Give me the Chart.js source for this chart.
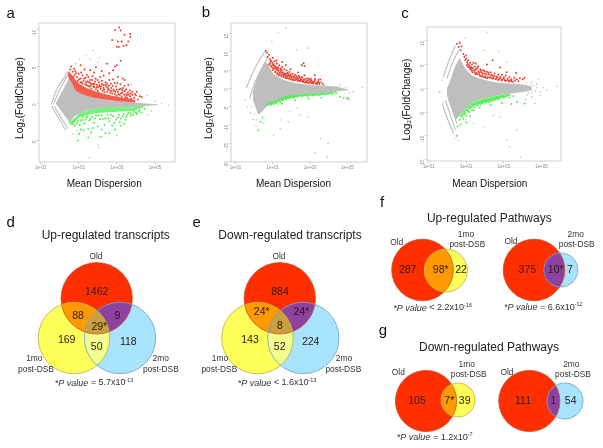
<!DOCTYPE html>
<html><head><meta charset="utf-8">
<script src="https://cdn.jsdelivr.net/npm/chart.js@4"></script>
<style>
html,body{margin:0;padding:0;background:#fff;width:603px;height:448px;overflow:hidden}
canvas{position:absolute;top:0}
#a,#b,#c{filter:blur(0.35px)}
#venn{filter:blur(0.2px)}
</style></head><body>
<canvas id="venn" width="603" height="448" style="left:0"></canvas>
<canvas id="a" width="200" height="190" style="left:0"></canvas>
<canvas id="b" width="200" height="190" style="left:200px"></canvas>
<canvas id="c" width="203" height="190" style="left:400px"></canvas>
<script>
// ---------- shared tick labels
const xTickValues=[-1,1,3,5];
const xTickLabels=['1e-01','1e+01','1e+03','1e+05'];
const aYTicks=[10,5,0,-5];
const bYTicks=[15,10,5,0,-5,-10,-15,-20];
const cYTicks=[10,5,0,-5,-10,-15];

// ---------- panel a: log10 mean, log2 fold change
const aMassX=[-0.21,0.44,0.53,0.58,0.79,1.05,1.4,2.1,3.0,3.86,4.56,5.09];
const aMassUp=[0,3.2,3.9,3.2,1.85,1.4,1.05,0.63,0.36,0.14,0,-0.09];
const aMassLow=[0,-2.3,-2.9,-2.3,-1.7,-1.3,-0.9,-0.63,-0.54,-0.5,-0.3,-0.18];
const aRedBandX=[0.44,0.6,0.8,1.05,1.4,1.8,2.2,2.7,3.1,3.6,3.95];
const aRedBandUp=[4.4,4.0,3.3,2.6,2.1,1.75,1.4,1.1,0.9,0.7,0.5];
const aRedBandLow=[3.6,3.0,1.85,1.4,1.05,0.8,0.6,0.45,0.33,0.2,0.14];
const aGreenBandX=[0.55,0.8,1.05,1.5,2.1,3,3.86,4.4];
const aGreenBandUp=[-2.4,-1.9,-1.3,-0.85,-0.63,-0.54,-0.5,-0.3];
const aGreenBandLow=[-3.0,-2.5,-1.85,-1.5,-1.25,-1.1,-1.0,-0.5];
const aStrands=[[[-0.44,0],[-0.1,2.2],[0.44,4.3]],[[-0.32,0],[0.05,2.2],[0.49,4.1]],[[-0.44,-0.3],[-0.05,-2],[0.32,-3.65]],[[-0.3,-0.3],[0.05,-1.9],[0.44,-3.4]]];
const aRed=[[3.12,10.3],[2.9,9.95],[3.2,9.9],[3.4,9.3],[3.7,9.4],[3.7,9],[2.75,8.6],[3.05,8.4],[3.25,8.4],[3.6,8.4],[3,7.7],[3.1,7.7],[3.35,7.8],[3.5,7.9],[3,5.2],[3.2,5.8],[2.9,5],[0.55,4.6],[0.6,5],[0.68,4.3],[0.75,4.7],[0.85,4.1],[0.9,3.6],[1,4],[1.1,3.4],[1.2,3.8],[1.25,3.1],[1.35,3.5],[1.45,3],[1.5,3.6],[1.6,2.8],[1.7,3.2],[1.75,2.6],[1.85,3],[1.95,2.5],[2.05,2.9],[2.1,2.3],[2.2,2.7],[2.3,2.1],[2.4,2.9],[2.45,2.3],[2.55,1.9],[2.6,3.2],[2.7,2.1],[2.8,3.3],[2.85,1.7],[2.95,2.3],[3.05,1.6],[3.2,2],[3.3,1.5],[3.4,2.4],[3.5,1.3],[3.6,2.5],[3.7,1],[3.8,1.6],[3.9,0.8],[4,1.1],[1.15,2.9],[1.4,2.5],[1.55,2.3],[1.65,2.05],[1.8,2.2],[1.9,1.95],[2,1.7],[2.15,2],[2.25,1.75],[2.35,1.55],[2.5,1.6],[2.65,1.45],[2.75,1.35],[2.9,1.25],[3,1.05],[3.15,1.15],[3.25,0.95],[3.45,0.9],[3.55,0.75],[3.75,0.65],[2.3,3.8],[1.8,4.2],[1.3,4.6],[2.6,4.1],[3.4,3.2],[4.1,0.55],[4.3,0.9]];
const aRedCloud=[[0.72,3.6],[0.78,3.9],[0.82,4.4],[0.95,3.1],[1.02,3.3],[1.08,2.9],[1.12,4.2],[1.18,2.7],[1.28,3.4],[1.33,2.6],[1.38,2.9],[1.42,3.9],[1.48,2.4],[1.53,2.9],[1.58,3.2],[1.62,2.4],[1.68,2.6],[1.72,3.7],[1.78,2.3],[1.83,2.7],[1.88,3.4],[1.93,2.2],[1.98,3.2],[2.02,2.2],[2.08,2.5],[2.12,3.6],[2.18,2.3],[2.22,3.1],[2.28,2.5],[2.33,1.9],[2.38,2.5],[2.48,2.7],[2.52,2.1],[2.58,2.4],[2.62,1.8],[2.68,2.7],[2.72,1.7],[2.78,2.4],[2.82,1.9],[2.88,2.8],[2.92,1.6],[2.98,1.9],[3.02,2.8],[3.08,1.3],[3.12,1.9],[3.18,2.6],[3.22,1.4],[3.28,1.8],[3.32,2.1],[3.38,1.2],[3.42,1.7],[3.48,1.9],[3.52,1.1],[3.58,1.5],[3.62,1.2],[3.68,1.8],[3.72,1.35],[3.82,1.2],[3.95,1.3],[4.05,1.6],[4.2,1],[2.5,5.4],[1.1,5.2],[1.9,4.9],[2.8,4.5],[3.05,3.6],[3.3,3.4],[1.6,4.5],[2.2,4.4]];
const aGreen=[[0.7,-2.8],[0.8,-3],[0.95,-2.4],[1.05,-2.9],[1.2,-2.2],[1.3,-2.7],[1.4,-1.9],[1.5,-3.4],[1.55,-2.3],[1.7,-1.8],[1.8,-2.6],[1.9,-1.6],[2,-3.1],[2.1,-2.1],[2.2,-1.6],[2.35,-2.9],[2.4,-2],[2.5,-1.5],[2.6,-2.4],[2.75,-3],[2.8,-1.7],[2.95,-2.2],[3.1,-1.5],[3.2,-2],[3.35,-1.4],[3.5,-1.8],[3.6,-1.2],[3.75,-1.6],[3.9,-1.1],[4.05,-1.4],[4.2,-0.9],[4.3,-1.2],[4.45,-0.7],[1,-4.1],[0.95,-5],[1.5,-4.6],[2.4,-4],[2.9,-3.5],[3.4,-2.7],[1.25,-3.6],[1.75,-3.3],[2.2,-3.5]];
const aGreenCloud=[[0.75,-2.4],[0.9,-2.7],[1.1,-2.3],[1.2,-1.8],[1.35,-2.2],[1.45,-1.7],[1.6,-2.1],[1.85,-2],[2.05,-1.6],[2.25,-2.1],[2.55,-2],[2.7,-1.5],[2.85,-2.6],[3.05,-1.9],[3.15,-2.5],[3.3,-1.7],[3.45,-2.2],[3.55,-1.5],[3.7,-1.3],[3.85,-1.5],[4,-1.2],[4.15,-1.1],[1.1,-3.5],[1.65,-3.9],[2.15,-4.5],[2.6,-4],[3.2,-3]];
const aGray=[[2,-5.6],[2.05,-6],[1.55,-7.3],[1.05,-4],[3,-4.3],[5.1,-0.2],[5.7,-0.2],[5.35,0],[4.8,-1],[4.6,-1.5],[1.4,6.6],[1.75,7.2],[2.1,6.2],[1.05,6],[0.85,5.4],[1.6,6],[2,5.6],[2.4,5.5],[4.6,1.1],[5,0.3],[3.75,2.6],[0.7,-4.1],[0.9,-3.6]];

// ---------- panel b
const bMassX=[-0.07,0.23,0.59,0.77,1.04,1.57,2.28,2.99,3.7,4.42,5.04];
const bMassUp=[-0.9,3.7,7.3,6.4,3.9,2.3,1.4,0.9,0.8,0.5,-0.3];
const bMassLow=[-3.2,-7.3,-5.5,-4.6,-3.7,-2.8,-1.8,-1.6,-1.4,-0.8,-0.5];
const bGreenBandX=[0.7,1.04,1.57,2.28,2.99,3.7,4.42];
const bGreenBandUp=[-4.1,-3.7,-2.8,-1.8,-1.6,-1.4,-0.8];
const bGreenBandLow=[-4.8,-4.3,-3.3,-2.3,-2,-1.8,-1.2];
const bStrands=[[[-0.42,0],[-0.12,3.7],[0.23,7.3],[0.64,10.5]],[[-0.25,-2.8],[0.06,1.8],[0.41,5.5],[0.77,8.7]],[[-0.07,-1.8],[0.23,2.8],[0.59,6.4]]];
const bRed=[[0.62,10.3],[0.7,9.8],[0.72,8.6],[0.8,9.2],[0.85,8],[0.92,7.4],[1,8.4],[1.05,6.6],[1.1,7.4],[1.15,6],[1.22,6.8],[1.3,5.4],[1.35,6.3],[1.42,5],[1.5,5.9],[1.55,4.4],[1.62,5.2],[1.7,4],[1.75,4.9],[1.85,3.6],[1.9,4.5],[2,3.3],[2.05,4],[2.15,3],[2.2,3.7],[2.3,2.8],[2.4,3.4],[2.5,2.5],[2.55,3.1],[2.65,2.2],[2.7,3.6],[2.8,2],[2.9,2.7],[3,1.9],[3.05,2.6],[3.15,1.7],[3.25,2.2],[3.35,1.5],[3.45,2.3],[3.55,2.4],[0.8,6.5],[0.85,6.9],[0.95,5.8],[1,6.4],[1,5],[1.1,5.4],[1.15,4.6],[1.2,5.2],[1.25,4.2],[1.3,4.8],[1.35,3.9],[1.4,4.5],[1.45,3.6],[1.5,4.2],[1.6,3.4],[1.65,4],[1.7,3.1],[1.8,3.3],[1.9,2.9],[2,2.7],[2.1,2.5],[2.25,2.4],[2.35,2.2],[2.45,2],[2.6,1.9],[2.75,1.7],[2.9,1.6],[3.1,1.4],[3.3,1.3],[3.5,1.2],[0.88,7.5],[1.12,5.9],[1.28,5.8],[1.48,4.9],[1.58,3.7],[1.78,4.2],[1.95,3.8],[2.65,6.9],[2.55,6.3],[2.7,6.1]];
const bRedCloud=[[0.9,6.2],[0.98,7],[1.03,5.5],[1.08,6.1],[1.13,4.4],[1.18,5.6],[1.23,3.9],[1.27,5],[1.33,3.5],[1.38,4.2],[1.43,5.4],[1.47,3.3],[1.53,3.9],[1.57,3],[1.63,3.7],[1.68,2.8],[1.72,3.6],[1.77,2.8],[1.83,3.9],[1.87,2.6],[1.92,3.3],[1.97,2.4],[2.03,3],[2.08,2.2],[2.12,3.4],[2.18,2.2],[2.22,2.8],[2.28,3.3],[2.33,2],[2.38,2.6],[2.43,3],[2.48,1.9],[2.53,2.3],[2.58,2.8],[2.63,1.7],[2.68,2.4],[2.73,1.6],[2.78,2.6],[2.83,1.6],[2.88,2.2],[2.93,1.4],[2.98,2.4],[3.03,1.5],[3.08,2.1],[3.18,1.3],[3.22,1.8],[3.28,2.6],[3.38,1.2],[3.42,1.8],[3.48,1.5],[3.6,1.6],[3.7,1.1],[3.25,3.6],[2.35,4.3],[1.95,5.2],[1.7,6.4],[1.2,7.6],[1.5,7.2]];
const bGreen=[[0.7,-4.6],[0.8,-4.2],[0.9,-4.5],[1,-3.9],[1.05,-4.4],[1.15,-3.5],[1.2,-4],[1.3,-3.2],[1.4,-3.7],[1.45,-2.9],[1.55,-3.3],[1.6,-2.6],[1.7,-3],[1.8,-2.4],[1.9,-2.8],[2,-2.2],[2.1,-2.6],[2.2,-2.1],[2.3,-2.3],[2.4,-1.9],[2.55,-2.2],[2.7,-1.8],[2.85,-2.1],[3,-1.7],[3.15,-2],[3.3,-1.7],[3.45,-1.9],[3.6,-1.5],[3.8,-1.7],[4,-1.4],[4.2,-1.6],[4.4,-1.2],[4.6,-2.4],[4.8,-2.7],[5,-2.6],[5.05,-3],[0.23,-11.5],[0.35,-9.2],[0.45,-8]];
const bGreenCloud=[[0.85,-3.9],[0.95,-4.1],[1.1,-3.8],[1.25,-3.5],[1.35,-3],[1.5,-2.7],[1.65,-2.5],[1.75,-2.3],[1.85,-2.1],[1.95,-2.4],[2.05,-2],[2.15,-2.4],[2.25,-1.9],[2.35,-2.1],[2.5,-1.9],[2.65,-2],[2.8,-1.7],[2.95,-1.9],[3.1,-1.7],[3.25,-1.8],[3.4,-1.6],[3.55,-1.7],[3.7,-1.5],[3.9,-1.5],[4.1,-1.3],[1.5,-4.2],[2.2,-3.3],[2.9,-2.8],[3.6,-2.6]];
const bGray=[[1.71,16.5],[1.3,15.3],[0.95,12.8],[2.28,10.5],[2.9,11],[2.64,6.9],[3.26,-17.7],[3.92,-18.8],[3.97,-15.1],[3.56,-13.8],[1.84,-9.2],[1.39,-11],[1.04,-12.8],[5.3,-0.9],[5.8,0.3],[4.95,-2.75],[2.46,-7.3],[2.9,-7.8],[1.4,-8.7],[-0.5,-3.3],[-0.35,-5.2],[-0.2,-6.8],[-0.05,-8.5],[0.1,-10.2],[-0.12,-5],[0.02,-7],[0.15,-8.6],[0.3,-6.5],[4.6,0.9],[4.9,0.2],[5.1,-1.2],[3.6,3.5],[1.9,-6.4],[2.3,-5.5],[0.5,-9.5]];

// ---------- panel c
const cMassX=[-0.03,0.15,0.42,0.65,0.95,1.3,1.92,2.63,3.34,4.04,4.49];
const cMassUp=[-0.07,1.7,4.8,6.4,4.1,2.7,1.8,1.2,1,0.8,0.4];
const cMassLow=[-1.5,-3.6,-6.7,-5.7,-4.3,-2.9,-2.2,-1.5,-1.1,-0.8,-0.4];
const cGreenBandX=[0.65,0.95,1.3,1.92,2.63,3.34];
const cGreenBandUp=[-5.7,-4.3,-2.9,-2.2,-1.5,-1.1];
const cGreenBandLow=[-6.5,-5,-3.8,-3.1,-2.4,-1.5];
const cStrands=[[[-0.2,2.7],[0.1,6],[0.42,9]],[[-0.03,2],[0.25,5.2],[0.59,8]],[[-0.29,-3.2],[0,-6.4],[0.33,-9.5]],[[-0.11,-2.5],[0.15,-5.6],[0.42,-8.8]],[[0.03,-1.8],[0.25,-4.4],[0.5,-7.5]]];
const cRed=[[0.5,9.4],[0.6,8.7],[0.65,9.6],[0.7,8],[0.75,8.8],[0.9,6.6],[0.95,5.9],[1,6.2],[1.05,5.5],[1.1,5.9],[1.15,4.9],[1.2,5.4],[1.25,4.5],[1.3,5],[1.35,4.2],[1.45,4.6],[1.5,3.9],[1.6,4.3],[1.65,3.6],[1.75,4],[1.8,3.3],[1.9,3.8],[2,3.1],[2.1,3.5],[2.2,2.9],[2.3,3.4],[2.4,2.7],[2.5,3.1],[2.6,2.5],[2.7,2.9],[2.8,2.4],[2.9,2.8],[3,2.3],[3.1,2.7],[3.2,2],[3.3,2.4],[3.4,1.9],[3.55,2.2],[3.7,1.9],[3.85,2.1],[4,1.9],[2.1,5],[2.8,4.4],[3.15,3.4],[1.1,4.5],[1.2,4.1],[1.3,3.7],[1.45,3.4],[1.55,3.2],[1.7,2.9],[1.85,2.7],[2,2.55],[2.15,2.4],[2.3,2.3],[2.45,2.15],[2.6,2],[2.75,1.95],[2.9,1.85],[3.05,1.75],[3.25,1.6],[3.4,1.5],[2.4,5.9],[1.5,5.2]];
const cRedCloud=[[0.85,7.2],[0.98,6.9],[1.03,4.8],[1.08,5.1],[1.18,4.5],[1.23,3.9],[1.28,4.2],[1.33,3.4],[1.38,5.4],[1.42,3.8],[1.48,3],[1.53,4.1],[1.58,2.9],[1.63,4.6],[1.68,3.2],[1.73,2.6],[1.78,3.7],[1.83,2.5],[1.88,3.1],[1.93,2.3],[1.98,3.6],[2.03,2.2],[2.08,2.9],[2.13,2.1],[2.18,3.3],[2.25,2.2],[2.33,2.8],[2.38,2.05],[2.48,2.6],[2.55,1.9],[2.65,2.3],[2.7,1.75],[2.8,2.1],[2.88,1.65],[2.98,2],[3.08,1.55],[3.18,1.7],[3.28,1.45],[3.38,1.7],[3.5,1.4],[3.6,1.7],[3.78,1.5],[4.1,2.2],[3.65,3.2]];
const cGreen=[[0.5,-10],[0.55,-8],[0.65,-6.6],[0.7,-7.6],[0.8,-5.9],[0.85,-6.4],[0.95,-5.2],[1,-5.8],[1.1,-4.6],[1.15,-5],[1.25,-4],[1.3,-4.6],[1.4,-3.4],[1.45,-4],[1.55,-3.2],[1.6,-3.7],[1.7,-2.9],[1.75,-3.4],[1.85,-2.6],[1.9,-3.2],[2,-2.5],[2.05,-3],[2.15,-2.3],[2.2,-2.9],[2.3,-2.1],[2.35,-2.6],[2.45,-2],[2.5,-2.5],[2.6,-1.9],[2.7,-2.3],[2.85,-1.7],[3,-2],[3.15,-1.6],[3.3,-1.9],[3.5,-1.6],[3.7,-2.9],[4.1,-3.2],[3.4,-3.3]];
const cGreenCloud=[[0.9,-5.4],[1.05,-4.7],[1.2,-4.2],[1.35,-3.7],[1.5,-3.4],[1.65,-3.2],[1.8,-3],[1.95,-2.8],[2.1,-2.6],[2.25,-2.5],[2.4,-2.3],[2.55,-2.2],[2.65,-1.8],[2.75,-2],[2.95,-1.6],[3.1,-1.7],[3.25,-1.4],[1.4,-4.6],[1.7,-4.1],[2.3,-3.5],[1.2,-5.9],[1,-7.2],[2.9,-3.1]];
const cGray=[[2.1,11.8],[0.95,10.6],[1.96,8],[2.72,7.8],[3.16,5.5],[4.84,1.9],[5.81,0.4],[5.28,-0.4],[4.93,-1.5],[4.66,-3.2],[4.49,-1.8],[3.69,-8.8],[3.16,-10.9],[3.3,-12.3],[3.9,-14.4],[1.92,-8.1],[1.39,-7.4],[2.45,-5.7],[2.8,-6],[4.58,0.6],[4.75,0.1],[4.66,-0.6],[4.49,1.3],[4.31,-1],[4.75,0.9],[5.1,0.1],[4.4,0.9],[4.5,-0.9],[4.2,1.2],[4.25,-1.4],[-0.45,-0.7],[-0.4,-0.9],[-0.3,1.7],[-0.2,2.5],[0.45,-10.5],[0.55,-11],[-0.2,-3],[4.95,-0.8],[4.15,-2.4]];

// ---------- Venn counts and p values
const upCounts=['1462','88','9','29*','169','50','118'];
const downCounts=['884','24*','24*','8','143','52','224'];
const upPathA=['287','98*','22'];
const upPathB=['375','10*','7'];
const downPathA=['105','7*','39'];
const downPathB=['111','1','54'];
const pValues=[['= 5.7x10','-13'],['< 1.6x10','-13'],['< 2.2x10','-16'],['= 6.6x10','-12'],['= 1.2x10','-7']];

// ---------- helpers
const toPts=(xs,ys)=>xs.map((x,i)=>({x,y:ys[i]}));
const pairs=l=>l.map(([x,y])=>({x,y}));
const FONT='"Liberation Sans", Arial, sans-serif';
const GRAY='#bebebe';
const band=(xs,up,low,color,order)=>[
 {data:toPts(xs,up),showLine:true,pointRadius:0,borderWidth:0,borderColor:color,backgroundColor:color,fill:'+1',order},
 {data:toPts(xs,low),showLine:true,pointRadius:0,borderWidth:0,borderColor:color,backgroundColor:color,fill:false,order}];
const dots=(l,color,r,order)=>({data:pairs(l),pointRadius:r,pointBackgroundColor:color,pointBorderWidth:0,showLine:false,order});
const strandSets=l=>l.map(s=>({data:pairs(s),showLine:true,pointRadius:0,borderWidth:1.1,borderColor:GRAY,tension:0.3,fill:false,order:8}));

const framePlugin={id:'frame',afterDatasetsDraw(ch){const{ctx,chartArea:c}=ch;ctx.save();ctx.strokeStyle='#cfcfcf';ctx.lineWidth=1;ctx.strokeRect(c.left,c.top,c.right-c.left,c.bottom-c.top);ctx.restore();}};

function maChart(id,f,yTicks,yRange,xRange,sets,xSp,ySp,yPad){
 const cv=document.getElementById(id);
 return new Chart(cv,{type:'scatter',data:{datasets:sets},plugins:[framePlugin],options:{
  responsive:false,animation:false,events:[],
  layout:{autoPadding:false,padding:{top:f.t,right:cv.width-f.r,left:0,bottom:0}},
  plugins:{legend:{display:false},tooltip:{enabled:false}},
  scales:{
   x:{type:'linear',min:xRange[0],max:xRange[1],
     afterBuildTicks:s=>{s.ticks=xTickValues.map(value=>({value}));},
     afterFit:s=>{s.height=190-f.b;},
     grid:{display:true,drawOnChartArea:false,tickLength:2,color:'#c8c8c8'},border:{display:false},
     ticks:{font:{size:4.5,family:FONT},color:'#8a8a8a',padding:1,autoSkip:false,maxRotation:0,minRotation:0,callback:v=>xTickLabels[xTickValues.indexOf(v)]},
     title:{display:true,text:'Mean Dispersion'+' '.repeat(xSp),color:'#111',font:{size:10,family:FONT},padding:{top:2,bottom:0}}},
   y:{type:'linear',min:yRange[0],max:yRange[1],
     afterBuildTicks:s=>{s.ticks=yTicks.map(value=>({value}));},
     afterFit:s=>{s.width=f.l;},
     grid:{display:true,drawOnChartArea:false,tickLength:2,color:'#c8c8c8'},border:{display:false},
     ticks:{font:{size:4.5,family:FONT},color:'#8a8a8a',padding:2,autoSkip:false,minRotation:90,maxRotation:90,callback:v=>String(v)},
     title:{display:true,text:'Log\u2082(FoldChange)'+' '.repeat(ySp),color:'#111',font:{size:10,family:FONT},padding:{top:yPad,bottom:0}}}
  }}});
}

maChart('a',{l:39,r:175,t:23,b:162},aYTicks,[-7.9,10.9],[-1.09,6.05],[
 dots(aRed.concat(aRedCloud),'#f0402c',1,1),dots(aGreen.concat(aGreenCloud),'#4df04d',1,2),dots(aGray,'#c9c0c0',0.8,9),
 ...band(aRedBandX,aRedBandUp,aRedBandLow,'rgba(244,52,30,0.8)',5),
 ...band(aGreenBandX,aGreenBandUp,aGreenBandLow,'rgba(70,240,70,0.75)',6),
 ...band(aMassX,aMassUp,aMassLow,GRAY,7),...strandSets(aStrands)],2,4,14);

maChart('b',{l:31,r:167,t:23,b:162},bYTicks,[-20.2,17.9],[-1.24,6.05],[
 dots(bRed.concat(bRedCloud),'#e9402e',1,1),dots(bGreen.concat(bGreenCloud),'#50ee50',1,2),dots(bGray,'#c6c0c0',0.8,9),
 ...band(bGreenBandX,bGreenBandUp,bGreenBandLow,'rgba(70,240,70,0.7)',6),
 ...band(bMassX,bMassUp,bMassLow,GRAY,7),...strandSets(bStrands)],4,4,3);

maChart('c',{l:27,r:161,t:27,b:161},cYTicks,[-15.3,12.9],[-1.09,6.04],[
 dots(cRed.concat(cRedCloud),'#e9402e',1,1),dots(cGreen.concat(cGreenCloud),'#50ee50',1,2),dots(cGray,'#c6c0c0',0.8,9),
 ...band(cGreenBandX,cGreenBandUp,cGreenBandLow,'rgba(70,240,70,0.7)',6),
 ...band(cMassX,cMassUp,cMassLow,GRAY,7),...strandSets(cStrands)],3,4,1.3);

// ---------- Venn layer: one bubble chart over a page sized hidden scale
const RED='#ff2f00',YEL='#ffff5a',BLU='#a9e4ff',ORG='#ff9a00',PUR='#8d42a0',LIM='#f2ff8e',TRI='#c9a03c';
const RL='#c8502a',YL='#b5ad4a',BL='#6f9fc4';
const circles=[
 {x:96.7,y:298.3,r:35.7},{x:74,y:338,r:35.8},{x:120,y:338,r:35.7},
 {x:279.8,y:298.3,r:35.7},{x:257.5,y:338,r:35.8},{x:303.3,y:338,r:35.7},
 {x:422.5,y:270,r:30.8},{x:445.8,y:270.5,r:21.5},
 {x:534,y:270,r:30.8},{x:560.8,y:270,r:17},
 {x:426,y:401,r:30.6},{x:458,y:400,r:17},
 {x:529.3,y:401,r:30.6},{x:565,y:401,r:18}];
const fills=[RED,YEL,BLU,RED,YEL,BLU,RED,YEL,RED,BLU,RED,YEL,RED,BLU];
const lines=[RL,YL,BL,RL,YL,BL,RL,YL,RL,BL,RL,YL,RL,BL];
const overlaps=[[[0,1],ORG],[[0,2],PUR],[[1,2],LIM],[[0,1,2],TRI],[[3,4],ORG],[[3,5],PUR],[[4,5],LIM],[[3,4,5],TRI],[[6,7],ORG],[[8,9],PUR],[[10,11],ORG],[[12,13],PUR]];

const L=(t,x,y,s,c,w)=>({t,x,y,s:s||8.4,c:c||'#333'});
const countPlaces=[
 [upCounts,[[96.7,292.3],[78,316],[117.3,316],[99.3,326.7],[66.7,340],[96.7,347.3],[128.3,342]]],
 [downCounts,[[280,292.3],[261.7,312.3],[301.5,312.3],[280,325.7],[250,340],[279.7,347.3],[310.7,342]]],
 [upPathA,[[407.7,270.3],[440.7,270.3],[461,270.3]]],
 [upPathB,[[527.3,270.3],[555.7,270.3],[570,270.3]]],
 [downPathA,[[417,400.7],[449.3,400.7],[464.7,400.7]]],
 [downPathB,[[523,400.7],[553.3,400.7],[570.7,400.7]]]];
const texts=[
 L('a',10.7,14,15,'#111'),L('b',206,13,15,'#111'),L('c',405,14,15,'#111'),L('d',10.7,223,15,'#111'),L('e',196.7,223,15,'#111'),L('f',382,203,15,'#111'),L('g',383,331,15,'#111'),
 L('Up-regulated transcripts',105.7,236,12,'#222'),L('Down-regulated transcripts',290,235.7,12,'#222'),L('Up-regulated Pathways',489.3,218.3,12,'#222'),L('Down-regulated Pathways',489,347.7,12,'#222'),
 L('Old',96,256.7),L('1mo',34.3,359),L('post-DSB',36,369.7),L('2mo',160.7,359),L('post-DSB',160.8,369.7),
 L('Old',279,256.7),L('1mo',220,359),L('post-DSB',219.3,369.7),L('2mo',344,359),L('post-DSB',343.3,369.7),
 L('Old',396.7,242.3),L('1mo',466,234.3),L('post-DSB',467.3,244.7),L('Old',511,242),L('2mo',575.7,234.3),L('post-DSB',576.7,244.7),
 L('Old',398.3,372.7),L('1mo',466.7,364.7),L('post-DSB',468.7,375),L('Old',507,372.7),L('2mo',571.3,364.7),L('post-DSB',573,375)];
const pPlaces=[[94,383],[277,383],[432.7,308],[543.3,307.5],[434.7,437.3]];

const vennPlugin={id:'vennParts',afterDatasetsDraw(ch){
 const{ctx}=ch,el=ch.getDatasetMeta(0).data;
 const path=i=>{const e=el[i];ctx.beginPath();ctx.arc(e.x,e.y,e.options.radius,0,Math.PI*2);};
 overlaps.forEach(([ids,color])=>{ctx.save();ids.forEach(i=>{path(i);ctx.clip();});ctx.fillStyle=color;ctx.fillRect(0,0,603,448);ctx.restore();});
 ctx.save();ctx.lineWidth=0.8;el.forEach((e,i)=>{ctx.strokeStyle=lines[i];path(i);ctx.stroke();});ctx.restore();
 ctx.save();ctx.textAlign='center';ctx.textBaseline='middle';
 const sx=ch.scales.x,sy=ch.scales.y;
 const put=(t,x,y,s,c)=>{ctx.font=s+'px '+FONT;ctx.fillStyle=c;ctx.fillText(t,sx.getPixelForValue(x),sy.getPixelForValue(y));};
 texts.forEach(o=>put(o.t,o.x,o.y,o.s,o.c));
 countPlaces.forEach(([vals,pos])=>vals.forEach((v,i)=>put(v,pos[i][0],pos[i][1],10.5,'#2a1a10')));
 ctx.textAlign='left';
 pValues.forEach(([val,sup],i)=>{
  const[x,y]=pPlaces[i],size=9,it='italic '+size+'px '+FONT,re=size+'px '+FONT,sm='5.5px '+FONT,lead='*P value',mid=' '+val;
  ctx.font=it;const w1=ctx.measureText(lead).width;ctx.font=re;const w2=ctx.measureText(mid).width;ctx.font=sm;const w3=ctx.measureText(sup).width;
  let px=sx.getPixelForValue(x)-(w1+w2+w3)/2;const py=sy.getPixelForValue(y);ctx.fillStyle='#333';
  ctx.font=it;ctx.fillText(lead,px,py);px+=w1;ctx.font=re;ctx.fillText(mid,px,py);px+=w2;ctx.font=sm;ctx.fillText(sup,px,py-3);
 });
 ctx.restore();
}};
new Chart(document.getElementById('venn'),{type:'bubble',
 data:{datasets:[{data:circles,backgroundColor:fills,borderColor:lines,borderWidth:0}]},
 plugins:[vennPlugin],
 options:{responsive:false,animation:false,events:[],layout:{autoPadding:false,padding:0},clip:false,
  plugins:{legend:{display:false},tooltip:{enabled:false}},
  scales:{x:{type:'linear',min:0,max:603,display:false},y:{type:'linear',min:0,max:448,reverse:true,display:false}}}});
</script>
</body></html>
